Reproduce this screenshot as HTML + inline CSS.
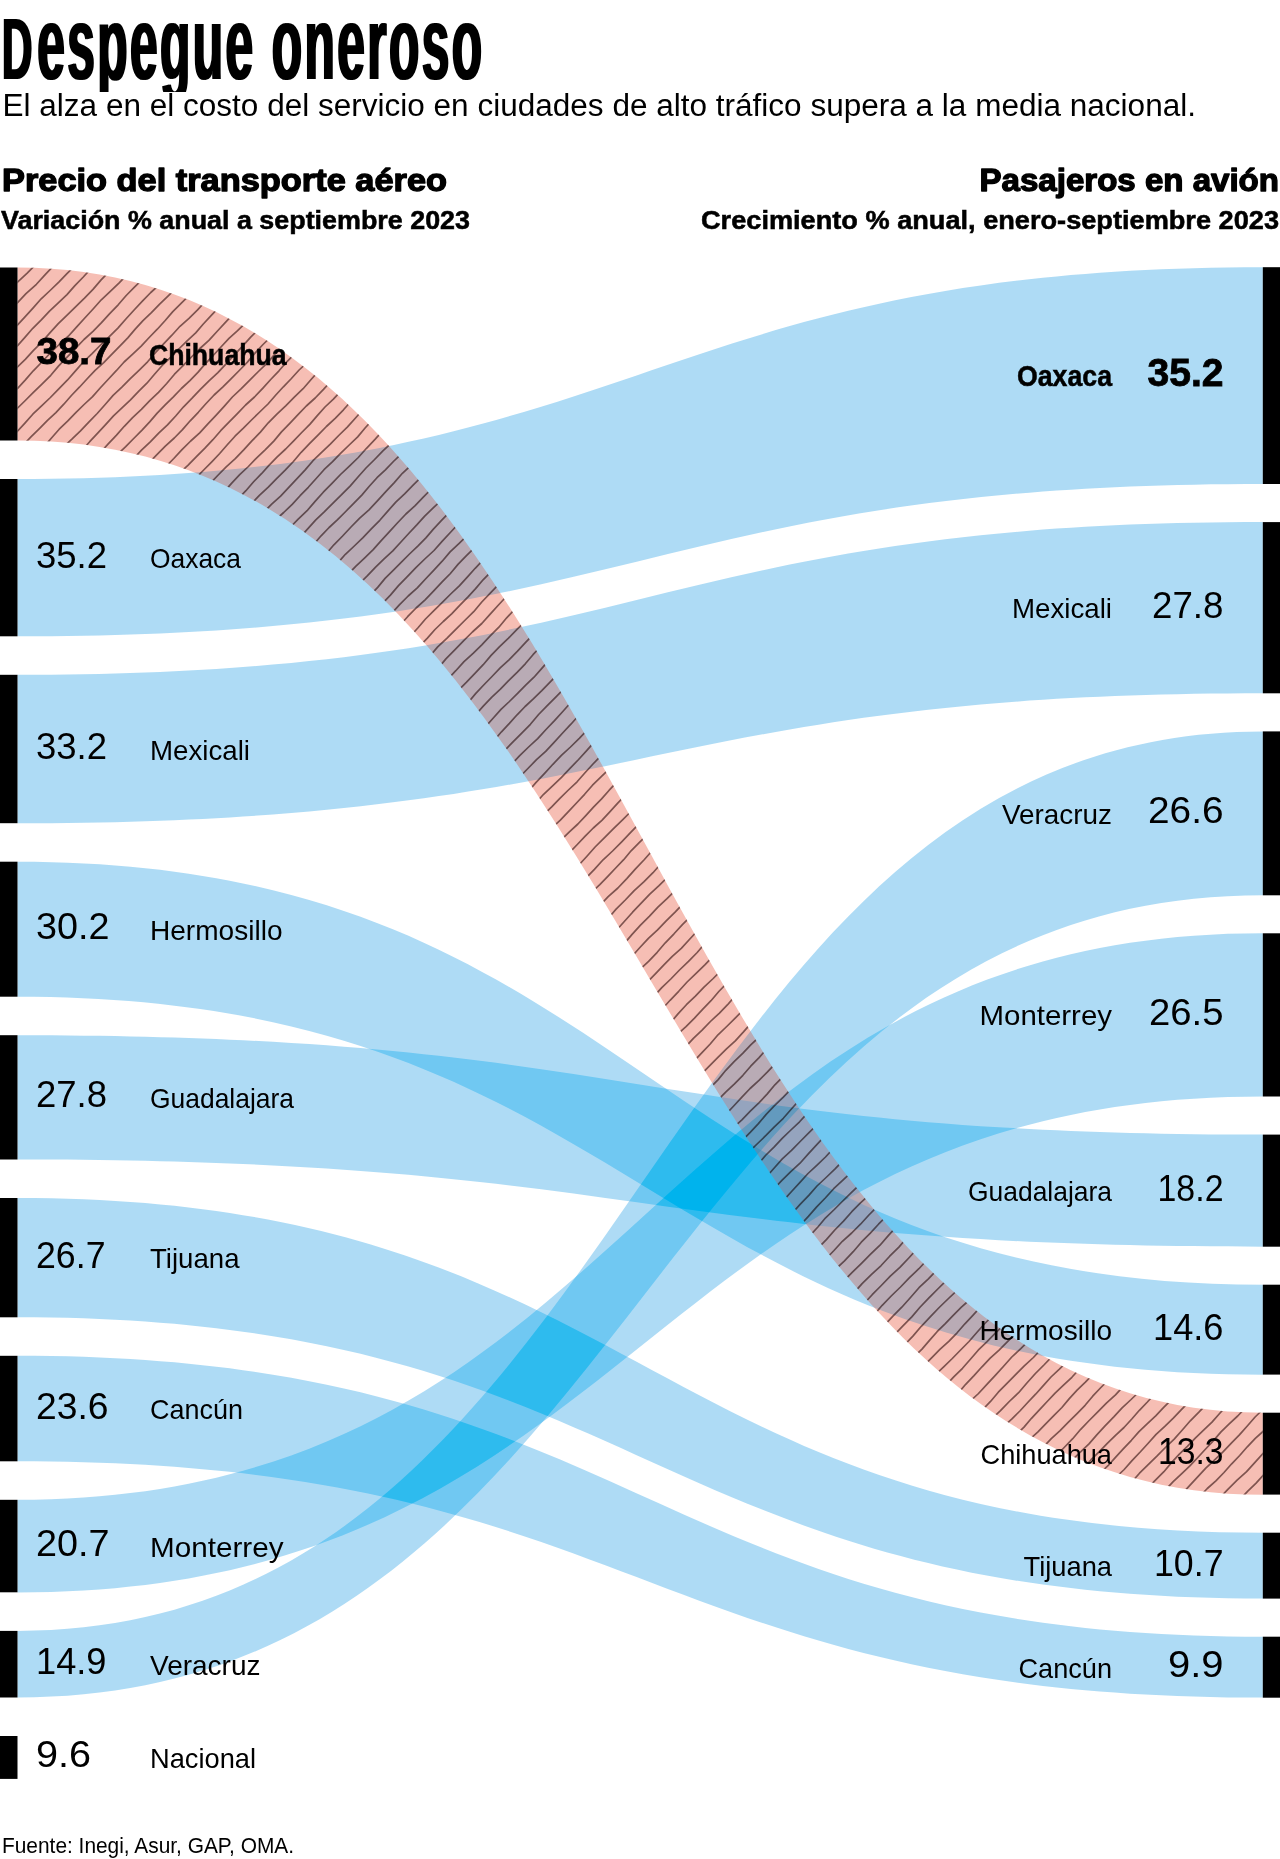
<!DOCTYPE html>
<html lang="es">
<head>
<meta charset="utf-8">
<title>Despegue oneroso</title>
<style>
html,body{margin:0;padding:0;background:#fff;}
body{width:1280px;height:1859px;overflow:hidden;}
body{position:relative;}
svg{display:block;position:absolute;left:0;top:0;}
#title{position:absolute;left:0;top:0;width:520px;height:92px;overflow:hidden;filter:url(#fat);}
.tt{position:absolute;left:2px;top:-9.5px;margin:0;padding:0;font:700 104px/1 "Liberation Sans", sans-serif;letter-spacing:5px;white-space:nowrap;color:#000;transform-origin:0 0;transform:scaleX(0.478);}
.tt::first-letter{font-size:88px;letter-spacing:10px;}
text{font-family:"Liberation Sans", sans-serif;fill:#000;}
.b{font-weight:700;}
.t{stroke:#000;stroke-width:2.2px;stroke-linejoin:round;}
.h1{stroke:#000;stroke-width:1.3px;stroke-linejoin:round;}
.h2{stroke:#000;stroke-width:0.55px;}
.nb{stroke:#000;stroke-width:0.8px;}
.lb{stroke:#000;stroke-width:0.5px;}
.band{fill:#cccccc;mix-blend-mode:multiply;}
</style>
</head>
<body>
<svg width="1280" height="1859" viewBox="0 0 1280 1859">
<defs>
<filter id="ramp" x="0" y="0" width="1280" height="1859" filterUnits="userSpaceOnUse" color-interpolation-filters="sRGB">
<feComponentTransfer>
<feFuncR type="table" tableValues="0.0000 0.0000 0.0000 0.0000 0.0000 0.0000 0.0000 0.0000 0.0000 0.0000 0.0000 0.0000 0.0000 0.0000 0.0000 0.0000 0.0000 0.0000 0.0000 0.0000 0.0000 0.0000 0.0000 0.0000 0.0000 0.0000 0.0000 0.0000 0.0000 0.0000 0.0000 0.0000 0.0000 0.0000 0.0000 0.0000 0.0000 0.0000 0.0000 0.0000 0.0000 0.0007 0.0191 0.0375 0.0559 0.0743 0.0926 0.1110 0.1294 0.1478 0.1662 0.1846 0.2042 0.2241 0.2440 0.2639 0.2838 0.3037 0.3237 0.3436 0.3635 0.3834 0.4033 0.4232 0.4431 0.4581 0.4730 0.4880 0.5029 0.5179 0.5328 0.5478 0.5627 0.5777 0.5926 0.6076 0.6225 0.6375 0.6525 0.6674 0.6824 0.6982 0.7141 0.7300 0.7459 0.7618 0.7776 0.7935 0.8094 0.8253 0.8412 0.8571 0.8729 0.8888 0.9047 0.9206 0.9365 0.9524 0.9682 0.9841 1.0000"/>
<feFuncG type="table" tableValues="0.6667 0.6671 0.6676 0.6681 0.6686 0.6691 0.6695 0.6700 0.6705 0.6710 0.6715 0.6719 0.6724 0.6729 0.6734 0.6738 0.6743 0.6748 0.6753 0.6758 0.6762 0.6767 0.6772 0.6777 0.6782 0.6786 0.6791 0.6796 0.6801 0.6805 0.6810 0.6815 0.6820 0.6830 0.6859 0.6888 0.6916 0.6945 0.6974 0.7003 0.7031 0.7060 0.7091 0.7121 0.7152 0.7183 0.7213 0.7244 0.7275 0.7305 0.7336 0.7366 0.7404 0.7444 0.7484 0.7524 0.7564 0.7604 0.7643 0.7683 0.7723 0.7763 0.7803 0.7843 0.7882 0.7929 0.7975 0.8022 0.8069 0.8115 0.8162 0.8208 0.8255 0.8301 0.8348 0.8395 0.8441 0.8488 0.8534 0.8581 0.8627 0.8696 0.8765 0.8833 0.8902 0.8971 0.9039 0.9108 0.9176 0.9245 0.9314 0.9382 0.9451 0.9520 0.9588 0.9657 0.9725 0.9794 0.9863 0.9931 1.0000"/>
<feFuncB type="table" tableValues="0.9176 0.9179 0.9181 0.9184 0.9186 0.9188 0.9191 0.9193 0.9196 0.9198 0.9200 0.9203 0.9205 0.9208 0.9210 0.9212 0.9215 0.9217 0.9220 0.9222 0.9224 0.9227 0.9229 0.9232 0.9234 0.9236 0.9239 0.9241 0.9243 0.9246 0.9248 0.9251 0.9253 0.9257 0.9267 0.9276 0.9286 0.9295 0.9305 0.9315 0.9324 0.9333 0.9337 0.9341 0.9345 0.9349 0.9353 0.9356 0.9360 0.9364 0.9368 0.9372 0.9382 0.9395 0.9407 0.9419 0.9431 0.9444 0.9456 0.9468 0.9480 0.9493 0.9505 0.9517 0.9529 0.9537 0.9544 0.9551 0.9559 0.9566 0.9574 0.9581 0.9588 0.9596 0.9603 0.9610 0.9618 0.9625 0.9632 0.9640 0.9647 0.9665 0.9682 0.9700 0.9718 0.9735 0.9753 0.9771 0.9788 0.9806 0.9824 0.9841 0.9859 0.9876 0.9894 0.9912 0.9929 0.9947 0.9965 0.9982 1.0000"/>
</feComponentTransfer>
</filter>
<filter id="ramp2" x="0" y="0" width="1280" height="1859" filterUnits="userSpaceOnUse" color-interpolation-filters="sRGB">
<feComponentTransfer>
<feFuncR type="table" tableValues="0.1961 0.1973 0.1985 0.1997 0.2009 0.2021 0.2033 0.2045 0.2057 0.2068 0.2080 0.2092 0.2104 0.2116 0.2128 0.2140 0.2152 0.2164 0.2176 0.2188 0.2200 0.2212 0.2224 0.2236 0.2248 0.2260 0.2272 0.2284 0.2296 0.2308 0.2320 0.2332 0.2344 0.2366 0.2424 0.2481 0.2539 0.2596 0.2653 0.2711 0.2768 0.2828 0.2935 0.3042 0.3150 0.3257 0.3364 0.3471 0.3578 0.3686 0.3793 0.3900 0.4044 0.4197 0.4350 0.4504 0.4657 0.4810 0.4963 0.5116 0.5270 0.5423 0.5576 0.5729 0.5882 0.5968 0.6054 0.6140 0.6225 0.6311 0.6397 0.6483 0.6569 0.6654 0.6740 0.6826 0.6912 0.6998 0.7083 0.7169 0.7255 0.7376 0.7498 0.7620 0.7741 0.7863 0.7984 0.8106 0.8227 0.8349 0.8471 0.8592 0.8714 0.8835 0.8957 0.9078 0.9200 0.9322 0.9443 0.9565 0.9686"/>
<feFuncG type="table" tableValues="0.5490 0.5497 0.5505 0.5512 0.5519 0.5526 0.5533 0.5540 0.5548 0.5555 0.5562 0.5569 0.5576 0.5584 0.5591 0.5598 0.5605 0.5612 0.5619 0.5627 0.5634 0.5641 0.5648 0.5655 0.5663 0.5670 0.5677 0.5684 0.5691 0.5698 0.5706 0.5713 0.5720 0.5730 0.5749 0.5768 0.5787 0.5807 0.5826 0.5845 0.5864 0.5883 0.5902 0.5921 0.5941 0.5960 0.5979 0.5998 0.6017 0.6036 0.6055 0.6075 0.6103 0.6134 0.6164 0.6195 0.6225 0.6256 0.6287 0.6317 0.6348 0.6379 0.6409 0.6440 0.6471 0.6488 0.6505 0.6522 0.6539 0.6556 0.6574 0.6591 0.6608 0.6625 0.6642 0.6659 0.6676 0.6694 0.6711 0.6728 0.6745 0.6780 0.6816 0.6851 0.6886 0.6922 0.6957 0.6992 0.7027 0.7063 0.7098 0.7133 0.7169 0.7204 0.7239 0.7275 0.7310 0.7345 0.7380 0.7416 0.7451"/>
<feFuncB type="table" tableValues="0.7294 0.7297 0.7299 0.7301 0.7304 0.7306 0.7308 0.7311 0.7313 0.7316 0.7318 0.7320 0.7323 0.7325 0.7328 0.7330 0.7332 0.7335 0.7337 0.7340 0.7342 0.7344 0.7347 0.7349 0.7352 0.7354 0.7356 0.7359 0.7361 0.7364 0.7366 0.7368 0.7371 0.7375 0.7384 0.7394 0.7403 0.7413 0.7423 0.7432 0.7442 0.7451 0.7451 0.7451 0.7451 0.7451 0.7451 0.7451 0.7451 0.7451 0.7451 0.7451 0.7451 0.7451 0.7451 0.7451 0.7451 0.7451 0.7451 0.7451 0.7451 0.7451 0.7451 0.7451 0.7451 0.7431 0.7412 0.7392 0.7373 0.7353 0.7333 0.7314 0.7294 0.7275 0.7255 0.7235 0.7216 0.7196 0.7176 0.7157 0.7137 0.7135 0.7133 0.7131 0.7129 0.7127 0.7125 0.7124 0.7122 0.7120 0.7118 0.7116 0.7114 0.7112 0.7110 0.7108 0.7106 0.7104 0.7102 0.7100 0.7098"/>
</feComponentTransfer>
</filter>
<filter id="fat" x="0" y="0" width="1" height="1"><feMorphology operator="dilate" radius="1.2 0.3"/></filter>
</defs>
<rect width="1280" height="1859" fill="#fff"/>
<g filter="url(#ramp)"><rect width="1280" height="1859" fill="#fff"/><g style="isolation:isolate">
<path class="band" d="M17.5,479.0 C644.1,479.0 644.1,267.2 1262.8,267.2 L1262.8,484.0 C644.1,484.0 644.1,636.3 17.5,636.3 Z"/>
<path class="band" d="M17.5,674.8 C644.1,674.8 644.1,522.1 1262.8,522.1 L1262.8,693.3 C644.1,693.3 644.1,823.2 17.5,823.2 Z"/>
<path class="band" d="M17.5,861.7 C644.1,861.7 644.1,1284.7 1262.8,1284.7 L1262.8,1374.7 C644.1,1374.7 644.1,996.7 17.5,996.7 Z"/>
<path class="band" d="M17.5,1035.2 C644.1,1035.2 644.1,1134.6 1262.8,1134.6 L1262.8,1246.7 C644.1,1246.7 644.1,1159.5 17.5,1159.5 Z"/>
<path class="band" d="M17.5,1198.0 C644.1,1198.0 644.1,1532.7 1262.8,1532.7 L1262.8,1598.6 C644.1,1598.6 644.1,1317.3 17.5,1317.3 Z"/>
<path class="band" d="M17.5,1355.8 C644.1,1355.8 644.1,1636.7 1262.8,1636.7 L1262.8,1697.6 C644.1,1697.6 644.1,1461.3 17.5,1461.3 Z"/>
<path class="band" d="M17.5,1499.8 C644.1,1499.8 644.1,933.3 1262.8,933.3 L1262.8,1096.5 C644.1,1096.5 644.1,1592.4 17.5,1592.4 Z"/>
<path class="band" d="M17.5,1630.9 C644.1,1630.9 644.1,731.4 1262.8,731.4 L1262.8,895.2 C644.1,895.2 644.1,1697.5 17.5,1697.5 Z"/>
</g></g>
<clipPath id="redclip"><path d="M17.5,267.5 C644.1,267.5 644.1,1412.7 1262.8,1412.7 L1262.8,1494.7 C644.1,1494.7 644.1,440.5 17.5,440.5 Z"/></clipPath>
<g clip-path="url(#redclip)"><g filter="url(#ramp2)"><rect width="1280" height="1859" fill="#fff"/><g style="isolation:isolate">
<path class="band" d="M17.5,479.0 C644.1,479.0 644.1,267.2 1262.8,267.2 L1262.8,484.0 C644.1,484.0 644.1,636.3 17.5,636.3 Z"/>
<path class="band" d="M17.5,674.8 C644.1,674.8 644.1,522.1 1262.8,522.1 L1262.8,693.3 C644.1,693.3 644.1,823.2 17.5,823.2 Z"/>
<path class="band" d="M17.5,861.7 C644.1,861.7 644.1,1284.7 1262.8,1284.7 L1262.8,1374.7 C644.1,1374.7 644.1,996.7 17.5,996.7 Z"/>
<path class="band" d="M17.5,1035.2 C644.1,1035.2 644.1,1134.6 1262.8,1134.6 L1262.8,1246.7 C644.1,1246.7 644.1,1159.5 17.5,1159.5 Z"/>
<path class="band" d="M17.5,1198.0 C644.1,1198.0 644.1,1532.7 1262.8,1532.7 L1262.8,1598.6 C644.1,1598.6 644.1,1317.3 17.5,1317.3 Z"/>
<path class="band" d="M17.5,1355.8 C644.1,1355.8 644.1,1636.7 1262.8,1636.7 L1262.8,1697.6 C644.1,1697.6 644.1,1461.3 17.5,1461.3 Z"/>
<path class="band" d="M17.5,1499.8 C644.1,1499.8 644.1,933.3 1262.8,933.3 L1262.8,1096.5 C644.1,1096.5 644.1,1592.4 17.5,1592.4 Z"/>
<path class="band" d="M17.5,1630.9 C644.1,1630.9 644.1,731.4 1262.8,731.4 L1262.8,895.2 C644.1,895.2 644.1,1697.5 17.5,1697.5 Z"/>
</g></g></g>
<g clip-path="url(#redclip)" fill="none" stroke="#847070" stroke-width="1.7" stroke-linejoin="round" style="mix-blend-mode:multiply">
<path d="M16.1,283.4 27.2,273.1 37.8,262.4"/>
<path d="M16.3,303.9 26.0,293.7 36.4,284.3 45.9,273.9 55.6,263.7"/>
<path d="M16.7,325.8 25.0,316.9 33.2,307.9 41.2,298.8 50.1,290.5 58.8,282.1 67.2,273.4 75.9,264.8"/>
<path d="M16.9,346.4 24.9,337.4 32.8,328.3 41.3,319.9 49.5,311.1 58.3,302.9 67.0,294.6 74.9,285.6 83.3,277.0 91.4,268.1"/>
<path d="M16.5,367.8 25.3,359.4 33.5,350.4 42.1,341.8 50.1,332.6 58.3,323.6 67.1,315.2 75.8,306.6 84.5,298.1 93.0,289.4 100.9,280.1 109.3,271.3"/>
<path d="M16.9,389.1 25.2,380.1 33.3,370.8 41.9,362.0 50.3,353.0 59.2,344.5 68.3,336.2 76.5,327.1 84.8,318.0 93.1,309.0 101.3,299.8 110.3,291.4 119.2,282.9 127.7,274.0"/>
<path d="M16.1,409.5 24.8,401.0 33.4,392.4 42.2,383.9 50.8,375.3 58.7,365.9 67.1,357.1 75.5,348.3 84.0,339.5 93.0,331.3 101.5,322.6 109.7,313.6 118.2,304.8 126.2,295.5 134.7,286.9 143.5,278.4"/>
<path d="M16.5,432.2 24.7,423.3 32.8,414.2 41.6,405.9 50.4,397.5 58.8,388.8 67.3,380.2 75.3,371.1 83.3,362.0 92.1,353.6 100.6,345.0 109.3,336.6 117.9,328.1 125.9,319.0 134.1,310.0 142.4,301.2 150.8,292.5 159.7,284.3"/>
<path d="M23.2,445.0 31.2,436.7 39.4,428.6 47.5,420.4 55.9,412.6 63.8,404.2 71.4,395.5 79.4,387.2 87.2,378.7 95.1,370.3 103.7,362.7 111.7,354.4 119.8,346.2 127.8,337.9 135.2,329.1 143.0,320.6 151.4,312.7 159.4,304.3 167.7,296.4 176.0,288.4"/>
<path d="M43.9,446.9 51.5,438.0 59.2,429.2 67.6,421.1 75.8,412.7 84.1,404.5 92.6,396.6 100.4,387.8 108.3,379.2 116.3,370.7 124.1,362.0 132.7,354.1 141.2,346.1 149.2,337.5 157.3,329.2 165.2,320.5 172.8,311.6 181.1,303.4 189.4,295.2"/>
<path d="M63.0,447.3 71.9,439.2 80.5,430.8 88.8,422.1 97.2,413.5 105.2,404.5 113.1,395.4 121.9,387.2 130.3,378.6 139.0,370.3 147.6,361.8 155.4,352.7 163.6,343.9 171.9,335.2 180.0,326.3 189.0,318.3 197.6,309.9 205.7,301.0"/>
<path d="M82.0,450.5 89.7,441.7 97.7,433.2 105.6,424.6 113.5,415.9 122.0,407.9 130.5,399.8 138.6,391.4 146.9,383.2 154.5,374.3 162.2,365.5 170.6,357.4 178.8,349.0 187.1,340.8 195.7,332.9 203.3,324.0 211.3,315.4 219.3,306.9"/>
<path d="M99.9,453.0 108.0,444.1 116.3,435.4 124.3,426.3 132.6,417.6 141.4,409.3 149.8,400.7 158.5,392.3 166.7,383.5 174.5,374.2 183.1,365.7 191.4,357.0 199.9,348.5 208.9,340.4 217.0,331.5 225.2,322.6 233.4,313.8"/>
<path d="M117.3,454.6 125.7,446.7 133.7,438.5 141.8,430.3 149.7,421.9 157.2,413.1 165.2,404.9 173.4,396.8 181.4,388.5 189.9,380.7 197.9,372.4 205.4,363.6 213.4,355.3 221.2,346.8 229.0,338.4 237.6,330.7 245.8,322.6"/>
<path d="M133.2,459.0 141.5,450.2 150.3,441.9 158.7,433.2 167.5,424.9 175.7,416.0 183.6,406.8 192.1,398.2 200.4,389.4 209.0,380.9 217.9,372.7 226.1,363.8 234.3,354.9 242.6,346.1 250.7,337.1 259.3,328.6"/>
<path d="M149.2,462.6 157.4,454.2 165.6,445.8 174.3,438.0 182.5,429.6 190.2,420.8 198.3,412.3 206.1,403.5 214.1,395.0 222.7,387.1 231.0,378.8 239.3,370.5 247.4,362.1 255.0,353.1 263.0,344.5 271.4,336.4"/>
<path d="M165.3,467.1 173.8,458.5 182.0,449.6 190.7,441.0 199.7,432.9 207.9,423.9 216.2,415.1 224.4,406.1 232.4,397.0 241.3,388.7 249.8,380.1 258.4,371.5 267.2,363.1 275.1,353.9 283.3,344.9"/>
<path d="M179.1,473.4 187.9,465.3 196.2,456.8 204.7,448.4 212.9,439.7 220.7,430.7 229.0,422.1 237.4,413.6 245.6,405.0 254.5,397.0 262.7,388.3 270.7,379.5 279.0,370.8 286.8,361.8 295.1,353.3"/>
<path d="M195.7,478.2 203.7,470.0 211.8,461.8 219.7,453.5 227.3,444.8 235.0,436.2 243.4,428.2 251.5,420.0 259.7,412.0 268.0,404.0 275.6,395.3 283.4,386.8 291.4,378.5 299.1,370.0 307.5,362.1"/>
<path d="M209.3,484.3 217.7,475.5 226.2,466.8 235.3,458.7 243.7,449.9 251.9,440.9 260.4,432.1 268.3,422.8 276.9,414.2 285.7,405.8 294.3,397.1 303.1,388.7 311.1,379.5 319.2,370.4"/>
<path d="M223.7,492.4 231.5,483.4 239.7,474.6 248.4,466.5 256.7,457.8 265.4,449.6 273.8,441.1 281.5,431.9 289.8,423.3 298.0,414.6 306.3,406.0 315.2,398.0 323.5,389.4 331.6,380.5"/>
<path d="M237.9,499.0 245.9,490.7 253.4,482.0 261.5,473.7 269.2,465.1 277.2,456.8 285.7,449.0 293.7,440.8 301.7,432.5 309.8,424.4 317.3,415.6 325.0,407.0 333.4,399.1 341.3,390.7"/>
<path d="M251.2,504.0 259.4,495.3 268.3,487.2 276.6,478.6 285.2,470.2 293.4,461.5 301.2,452.3 309.5,443.6 318.0,435.1 326.4,426.5 335.2,418.4 343.5,409.8 351.5,400.8"/>
<path d="M263.2,512.7 271.7,504.2 280.6,496.1 288.8,487.4 297.0,478.7 305.2,469.9 313.0,460.7 321.6,452.4 330.3,444.1 338.7,435.5 347.3,427.1 355.3,418.2 363.2,409.2"/>
<path d="M275.0,520.4 283.7,512.5 292.2,504.4 300.1,495.7 308.3,487.3 316.2,478.5 324.0,469.7 332.6,461.7 340.8,453.2 349.2,445.0 357.7,436.9 365.3,427.8 373.2,419.1"/>
<path d="M289.6,528.0 298.2,519.2 307.1,510.7 315.1,501.4 323.3,492.2 332.0,483.4 340.5,474.5 349.4,466.1 358.3,457.5 366.5,448.3 375.0,439.4 383.2,430.3"/>
<path d="M299.7,537.8 307.7,528.9 315.8,519.9 324.5,511.6 333.0,503.1 341.6,494.7 350.1,486.1 358.0,477.0 366.0,468.0 374.6,459.5 382.9,450.8 391.8,442.7"/>
<path d="M313.6,544.5 321.1,535.8 329.1,527.5 337.6,519.7 345.7,511.5 353.7,503.3 361.8,495.1 369.3,486.3 377.0,477.7 385.4,469.8 393.4,461.5 401.7,453.6"/>
<path d="M325.8,554.3 333.9,544.8 342.6,536.0 351.0,527.0 359.7,518.2 369.0,509.9 377.4,500.8 385.8,491.7 394.3,482.6 402.4,473.3 411.5,464.8"/>
<path d="M337.4,563.4 345.4,554.3 354.3,546.0 363.0,537.7 371.3,528.9 379.8,520.3 387.8,511.1 395.8,502.1 404.6,493.8 413.1,485.2 421.7,476.6"/>
<path d="M347.3,575.1 355.7,566.4 364.5,558.1 373.2,549.6 381.2,540.6 389.5,531.7 397.6,522.8 405.9,514.0 414.9,505.9 423.3,497.1 431.8,488.5"/>
<path d="M359.1,584.0 367.5,575.7 375.6,567.2 384.1,558.9 392.8,550.9 400.7,542.2 408.7,533.5 416.8,524.9 424.7,516.1 433.2,507.9 441.8,499.8"/>
<path d="M369.8,595.7 377.7,587.4 385.1,578.4 393.2,570.3 401.4,562.2 409.5,554.0 417.8,546.1 425.9,537.9 433.4,529.1 441.3,520.7 449.3,512.4"/>
<path d="M381.8,604.2 390.4,595.1 398.5,585.6 407.3,576.7 415.9,567.7 424.8,559.0 434.0,550.5 442.3,541.1 450.8,532.0 459.3,522.8"/>
<path d="M391.4,613.6 399.6,604.6 408.2,596.0 417.3,587.9 425.5,579.0 433.9,570.1 442.2,561.2 450.1,551.9 458.9,543.6 467.6,535.1"/>
<path d="M399.5,625.7 407.6,616.7 416.1,608.0 425.1,599.8 433.5,591.1 441.9,582.2 450.4,573.5 458.2,564.1 466.7,555.4 475.4,546.9"/>
<path d="M409.8,636.8 417.8,628.0 425.5,619.0 433.9,610.7 442.3,602.3 450.7,594.0 459.3,585.9 467.3,577.2 475.2,568.3 483.4,559.7"/>
<path d="M419.4,646.4 427.4,638.1 435.0,629.5 443.3,621.5 451.9,613.7 459.7,605.3 467.8,597.1 475.6,588.6 483.1,579.8 491.2,571.6"/>
<path d="M429.5,656.5 437.7,646.9 446.8,638.3 455.8,629.4 464.7,620.5 473.7,611.7 481.8,602.0 490.5,592.9 499.2,583.8"/>
<path d="M437.8,668.6 445.9,658.9 454.8,649.9 463.5,640.8 472.4,632.0 481.8,623.5 490.2,614.1 498.7,604.8 507.3,595.5"/>
<path d="M447.4,679.6 455.8,670.7 464.0,661.6 473.1,653.4 481.8,644.8 490.2,635.9 498.9,627.2 506.7,617.8 515.1,608.9"/>
<path d="M457.6,691.1 466.3,682.4 474.7,673.6 483.2,664.7 491.1,655.4 499.6,646.6 508.5,638.1 517.0,629.4 525.8,620.9"/>
<path d="M468.0,702.8 475.6,693.6 483.7,685.0 492.0,676.5 500.2,667.9 509.0,659.8 517.3,651.4 525.4,642.6 533.6,634.1"/>
<path d="M475.6,714.8 483.5,705.9 491.6,697.3 500.4,689.2 508.6,680.7 517.1,672.4 525.3,663.8 533.0,654.7 541.2,646.0"/>
<path d="M485.6,726.6 493.3,718.0 501.0,709.4 509.4,701.5 517.6,693.4 525.7,685.2 534.0,677.2 541.6,668.6 549.2,659.9"/>
<path d="M494.0,740.5 501.5,731.8 509.4,723.4 517.1,714.8 525.1,706.5 533.6,698.7 541.8,690.7 549.8,682.3 557.8,674.1"/>
<path d="M503.6,751.6 512.5,742.4 521.5,733.4 530.4,724.3 538.6,714.5 547.5,705.3 556.5,696.3 565.5,687.2"/>
<path d="M511.3,764.6 519.7,755.6 528.6,747.0 537.7,738.6 546.0,729.5 554.5,720.6 562.8,711.5 571.0,702.2"/>
<path d="M519.2,777.3 527.9,768.5 536.5,759.7 545.7,751.4 554.1,742.3 562.4,733.2 570.9,724.2 579.1,715.0"/>
<path d="M528.0,791.7 536.1,782.4 544.6,773.4 552.9,764.3 561.4,755.4 570.5,747.0 579.3,738.3 587.8,729.4"/>
<path d="M535.4,803.5 543.6,794.3 552.6,785.8 561.5,777.3 570.0,768.3 578.6,759.5 586.9,750.4 595.1,741.1"/>
<path d="M543.1,815.2 551.7,806.9 559.9,798.3 568.4,790.0 577.1,781.8 585.0,772.8 593.0,764.0 601.3,755.4"/>
<path d="M551.3,828.4 560.1,820.4 568.4,811.7 576.5,803.0 584.6,794.3 592.5,785.2 601.0,776.9 609.6,768.6"/>
<path d="M561.2,839.9 569.4,831.8 577.9,824.0 585.8,815.6 593.5,807.1 601.6,798.9 609.2,790.2 617.1,781.8"/>
<path d="M569.2,852.8 577.3,844.5 585.2,836.2 593.3,828.0 601.9,820.3 609.8,811.9 617.5,803.4 625.5,795.0"/>
<path d="M577.7,866.3 586.5,856.7 595.1,847.0 604.3,837.9 613.5,828.7 622.8,819.7 631.9,810.5"/>
<path d="M585.4,878.7 594.4,869.4 603.1,859.8 612.6,851.0 621.7,841.8 630.7,832.4 639.8,823.2"/>
<path d="M591.4,892.5 599.8,884.7 607.8,876.4 615.7,868.0 623.7,859.7 631.1,850.8 639.2,842.6 647.4,834.6"/>
<path d="M599.3,906.0 608.2,896.6 617.9,888.0 626.8,878.6 635.5,868.9 644.4,859.5 653.0,849.8"/>
<path d="M607.6,919.0 616.1,909.1 625.3,900.0 634.2,890.6 643.8,881.9 653.0,872.7 661.6,863.0"/>
<path d="M616.0,930.8 624.3,921.5 632.6,912.2 641.2,903.2 649.8,894.2 659.0,885.7 667.9,876.9"/>
<path d="M624.0,943.9 632.1,934.4 640.5,925.1 649.3,916.3 657.9,907.2 667.0,898.7 675.9,889.9"/>
<path d="M631.6,956.8 639.9,947.5 648.4,938.3 657.6,929.9 666.2,920.9 675.1,912.1 683.7,903.1"/>
<path d="M639.4,969.8 648.6,961.3 657.2,952.3 665.3,942.8 674.0,933.8 682.4,924.6 691.2,915.8"/>
<path d="M647.3,982.2 655.6,973.6 663.9,964.9 672.3,956.3 681.3,948.3 689.4,939.5 697.6,930.7"/>
<path d="M653.4,996.9 661.8,987.6 670.8,979.0 679.5,970.0 688.5,961.4 697.2,952.5 705.3,943.0"/>
<path d="M661.7,1009.5 670.1,1000.3 678.7,991.3 687.1,982.0 696.1,973.4 705.1,964.7 713.7,955.7"/>
<path d="M669.9,1023.4 678.0,1013.9 686.4,1004.7 695.4,996.1 704.0,987.1 713.2,978.5 722.0,969.7"/>
<path d="M677.1,1034.7 686.0,1026.6 694.5,1018.1 702.6,1009.3 711.0,1000.7 718.8,991.5 727.2,982.9"/>
<path d="M685.3,1047.2 693.4,1038.4 702.1,1030.1 710.4,1021.5 719.2,1013.3 727.6,1004.7 735.4,995.6"/>
<path d="M693.7,1061.4 702.0,1052.7 710.2,1044.0 718.0,1034.8 726.7,1026.5 735.2,1018.1 743.6,1009.6"/>
<path d="M701.1,1074.4 709.5,1065.8 717.9,1057.3 726.5,1048.9 735.3,1040.8 743.5,1031.9 751.4,1022.9"/>
<path d="M709.8,1088.2 718.2,1079.6 725.8,1070.3 734.1,1061.6 742.7,1053.3 751.0,1044.6 759.8,1036.5"/>
<path d="M717.3,1100.6 725.7,1092.1 734.5,1083.9 742.9,1075.3 750.7,1066.2 759.1,1057.6 767.1,1048.6"/>
<path d="M725.5,1114.7 733.7,1106.0 741.9,1097.2 750.1,1088.5 759.0,1080.4 767.5,1071.9 775.8,1063.2"/>
<path d="M733.1,1127.9 741.9,1119.8 750.3,1111.2 758.9,1102.8 767.1,1094.1 774.9,1084.8 783.3,1076.3"/>
<path d="M741.8,1140.8 750.2,1132.3 758.4,1123.6 766.2,1114.4 774.5,1105.7 783.1,1097.3 791.4,1088.7"/>
<path d="M749.0,1151.9 757.6,1143.5 766.2,1135.2 774.6,1126.6 783.3,1118.3 791.2,1109.3 799.2,1100.3"/>
<path d="M757.7,1164.6 765.5,1155.5 774.0,1147.1 782.2,1138.3 790.9,1130.0 799.6,1121.8 807.7,1112.9"/>
<path d="M765.7,1177.6 774.0,1168.2 782.3,1158.9 791.5,1150.4 800.2,1141.5 809.0,1132.7 817.9,1123.9"/>
<path d="M773.3,1189.5 781.9,1180.4 790.8,1171.7 800.0,1163.2 808.3,1153.9 816.8,1144.7 825.3,1135.7"/>
<path d="M783.7,1200.1 791.8,1191.2 800.0,1182.4 808.0,1173.5 816.8,1165.3 825.5,1157.0 833.7,1148.2"/>
<path d="M791.7,1213.7 800.1,1204.4 808.8,1195.4 817.0,1186.0 826.1,1177.5 835.1,1168.9 843.7,1159.8"/>
<path d="M799.9,1225.5 808.4,1216.4 816.7,1206.9 825.3,1198.0 833.7,1188.7 842.9,1180.2 852.0,1171.7"/>
<path d="M809.7,1235.8 817.9,1227.0 825.6,1217.8 834.3,1209.5 842.8,1201.0 851.3,1192.6 860.0,1184.3"/>
<path d="M817.8,1248.3 826.6,1239.4 834.8,1230.0 843.5,1221.1 851.8,1211.7 860.5,1202.8 869.8,1194.4"/>
<path d="M825.3,1259.5 834.0,1250.5 842.4,1241.3 851.7,1233.0 860.5,1224.2 868.9,1215.0 877.7,1206.1"/>
<path d="M835.4,1269.3 844.5,1260.8 853.2,1251.7 861.3,1242.2 870.1,1233.4 878.5,1224.2 887.3,1215.3"/>
<path d="M843.1,1281.6 852.2,1272.4 861.5,1263.3 870.6,1254.2 880.0,1245.2 888.5,1235.4 897.3,1225.9"/>
<path d="M853.5,1293.4 862.1,1283.6 871.3,1274.6 880.9,1265.8 889.7,1256.2 898.9,1247.1 907.3,1237.2"/>
<path d="M863.4,1304.3 872.2,1294.7 881.3,1285.5 890.3,1276.1 899.9,1267.4 908.8,1258.0 917.5,1248.4"/>
<path d="M873.7,1315.2 882.2,1305.3 891.2,1296.0 900.5,1287.0 909.5,1277.7 918.9,1268.7 927.6,1259.2"/>
<path d="M883.8,1325.8 892.7,1316.3 901.8,1307.2 910.5,1297.5 919.0,1287.7 928.4,1278.8 937.4,1269.5"/>
<path d="M893.7,1335.5 902.7,1326.2 911.8,1316.9 920.2,1307.0 929.2,1297.7 938.3,1288.5 947.5,1279.4"/>
<path d="M903.9,1345.5 912.9,1336.1 921.3,1326.3 930.2,1316.9 939.2,1307.5 948.5,1298.5 957.9,1289.6"/>
<path d="M913.7,1357.2 922.0,1349.1 929.5,1340.4 937.1,1331.7 945.3,1323.6 953.2,1315.3 961.4,1307.2 970.0,1299.5"/>
<path d="M923.2,1366.4 931.6,1357.9 939.9,1349.4 948.8,1341.4 957.1,1332.8 964.9,1323.8 973.1,1315.1 981.1,1306.3"/>
<path d="M935.1,1375.0 943.7,1366.8 952.3,1358.5 960.6,1350.0 969.0,1341.5 976.8,1332.5 984.8,1323.5 993.3,1315.2"/>
<path d="M945.8,1385.3 954.0,1376.6 962.5,1368.3 970.4,1359.3 978.2,1350.2 986.8,1341.9 995.1,1333.4 1003.6,1325.1"/>
<path d="M958.0,1393.4 965.7,1384.3 974.0,1375.6 982.0,1366.8 990.2,1358.2 999.1,1350.1 1007.5,1341.7 1015.8,1333.1"/>
<path d="M969.4,1401.9 978.5,1393.5 986.9,1384.4 995.3,1375.4 1003.6,1366.3 1011.8,1357.0 1020.8,1348.6 1029.6,1339.9"/>
<path d="M981.8,1410.5 990.3,1401.7 998.3,1392.2 1007.0,1383.4 1015.6,1374.6 1024.3,1365.9 1033.4,1357.5 1041.8,1348.5"/>
<path d="M991.2,1419.4 1000.5,1410.7 1009.3,1401.5 1018.6,1392.7 1026.9,1383.0 1035.4,1373.5 1044.4,1364.5 1053.2,1355.3"/>
<path d="M1003.1,1426.8 1011.7,1419.1 1019.9,1411.0 1027.7,1402.5 1035.6,1394.2 1043.3,1385.6 1051.0,1377.0 1059.4,1369.1 1067.6,1361.0"/>
<path d="M1015.8,1435.2 1024.0,1427.1 1031.5,1418.3 1039.4,1409.9 1047.2,1401.5 1055.1,1393.1 1063.5,1385.2 1071.9,1377.3 1079.6,1368.8"/>
<path d="M1029.1,1439.9 1037.7,1432.1 1045.7,1423.9 1053.8,1415.7 1061.9,1407.5 1069.3,1398.6 1077.1,1390.2 1085.4,1382.1 1093.4,1373.9"/>
<path d="M1043.1,1447.3 1051.3,1438.7 1060.1,1430.7 1068.4,1422.2 1076.8,1413.8 1085.1,1405.3 1092.7,1396.2 1100.9,1387.5 1109.3,1379.1"/>
<path d="M1055.7,1456.3 1064.2,1447.5 1072.7,1438.7 1080.7,1429.3 1089.2,1420.5 1097.8,1411.9 1106.4,1403.2 1115.5,1394.9 1123.8,1385.9"/>
<path d="M1071.4,1460.9 1080.1,1452.3 1089.0,1443.9 1097.0,1434.6 1105.3,1425.6 1113.8,1416.8 1122.1,1407.8 1131.1,1399.5 1139.9,1391.0"/>
<path d="M1083.5,1468.4 1091.1,1459.7 1099.3,1451.7 1107.3,1443.3 1115.5,1435.3 1124.0,1427.5 1131.8,1419.0 1139.4,1410.3 1147.4,1402.0 1155.1,1393.5"/>
<path d="M1099.6,1473.6 1108.0,1465.7 1115.7,1457.1 1123.5,1448.7 1131.4,1440.3 1139.0,1431.6 1147.4,1423.7 1155.7,1415.8 1163.7,1407.4 1171.8,1399.3"/>
<path d="M1115.6,1477.6 1124.2,1469.5 1132.0,1460.6 1140.2,1452.0 1148.2,1443.2 1156.1,1434.4 1164.8,1426.4 1173.3,1418.2 1181.4,1409.6 1189.8,1401.2"/>
<path d="M1131.5,1482.4 1139.5,1473.2 1148.2,1464.7 1156.9,1456.2 1165.4,1447.5 1174.2,1439.1 1182.3,1430.0 1190.3,1420.8 1198.9,1412.2 1207.3,1403.4"/>
<path d="M1147.7,1488.2 1155.7,1479.9 1163.9,1471.7 1171.3,1462.9 1179.1,1454.4 1187.4,1446.4 1195.3,1438.1 1203.6,1430.1 1212.0,1422.1 1219.6,1413.5 1227.3,1405.0"/>
<path d="M1165.2,1490.1 1173.2,1481.7 1181.5,1473.8 1189.9,1465.9 1197.8,1457.5 1205.6,1449.0 1213.5,1440.6 1221.0,1431.9 1229.2,1423.8 1237.7,1416.0 1245.6,1407.6"/>
<path d="M1181.6,1494.3 1189.6,1485.6 1197.7,1476.9 1205.8,1468.2 1214.4,1460.1 1223.0,1451.9 1231.1,1443.3 1239.4,1434.9 1247.3,1426.0 1255.1,1417.0 1263.6,1408.8"/>
<path d="M1199.3,1496.9 1207.3,1488.5 1215.9,1480.8 1224.0,1472.5 1231.7,1463.8 1239.7,1455.5 1247.3,1446.8 1255.3,1438.4 1263.9,1430.7"/>
<path d="M1219.3,1498.4 1228.1,1489.1 1237.1,1480.2 1246.6,1471.6 1255.2,1462.1 1263.8,1452.7"/>
<path d="M1239.7,1499.6 1247.8,1491.2 1256.1,1483.1 1263.9,1474.4"/>
</g>
<rect x="0" y="267.5" width="17.5" height="173.0" fill="#000"/>
<rect x="0" y="479.0" width="17.5" height="157.3" fill="#000"/>
<rect x="0" y="674.8" width="17.5" height="148.4" fill="#000"/>
<rect x="0" y="861.7" width="17.5" height="135.0" fill="#000"/>
<rect x="0" y="1035.2" width="17.5" height="124.3" fill="#000"/>
<rect x="0" y="1198.0" width="17.5" height="119.3" fill="#000"/>
<rect x="0" y="1355.8" width="17.5" height="105.5" fill="#000"/>
<rect x="0" y="1499.8" width="17.5" height="92.5" fill="#000"/>
<rect x="0" y="1630.9" width="17.5" height="66.6" fill="#000"/>
<rect x="0" y="1736.0" width="17.5" height="42.9" fill="#000"/>
<rect x="1262.8" y="267.2" width="17.2" height="216.8" fill="#000"/>
<rect x="1262.8" y="522.1" width="17.2" height="171.2" fill="#000"/>
<rect x="1262.8" y="731.4" width="17.2" height="163.9" fill="#000"/>
<rect x="1262.8" y="933.3" width="17.2" height="163.2" fill="#000"/>
<rect x="1262.8" y="1134.6" width="17.2" height="112.1" fill="#000"/>
<rect x="1262.8" y="1284.7" width="17.2" height="89.9" fill="#000"/>
<rect x="1262.8" y="1412.7" width="17.2" height="81.9" fill="#000"/>
<rect x="1262.8" y="1532.7" width="17.2" height="65.9" fill="#000"/>
<rect x="1262.8" y="1636.7" width="17.2" height="61.0" fill="#000"/>
<text x="2.5" y="116" font-size="31" textLength="1193.5" lengthAdjust="spacingAndGlyphs">El alza en el costo del servicio en ciudades de alto tráfico supera a la media nacional.</text>
<text x="2" y="191" font-size="31" class="b h1" textLength="445" lengthAdjust="spacingAndGlyphs">Precio del transporte aéreo</text>
<text x="1" y="229" font-size="26.6" class="b h2" textLength="469" lengthAdjust="spacingAndGlyphs">Variación % anual a septiembre 2023</text>
<text x="1279" y="191" font-size="31" class="b h1" text-anchor="end" textLength="299.5" lengthAdjust="spacingAndGlyphs">Pasajeros en avión</text>
<text x="1279" y="229" font-size="26.6" class="b h2" text-anchor="end" textLength="578" lengthAdjust="spacingAndGlyphs">Crecimiento % anual, enero-septiembre 2023</text>
<text x="36.5" y="364.0" font-size="37.5" class="b nb" textLength="75.0" lengthAdjust="spacingAndGlyphs">38.7</text>
<text x="149" y="364.5" font-size="29" class="b lb" textLength="137.5" lengthAdjust="spacingAndGlyphs">Chihuahua</text>
<text x="36" y="567.7" font-size="37" class="n" textLength="71.0" lengthAdjust="spacingAndGlyphs">35.2</text>
<text x="150" y="568.2" font-size="28.5" class="l" textLength="91" lengthAdjust="spacingAndGlyphs">Oaxaca</text>
<text x="36" y="759.0" font-size="37" class="n" textLength="71.0" lengthAdjust="spacingAndGlyphs">33.2</text>
<text x="150" y="759.5" font-size="28.5" class="l" textLength="100" lengthAdjust="spacingAndGlyphs">Mexicali</text>
<text x="36" y="939.2" font-size="37" class="n" textLength="73.5" lengthAdjust="spacingAndGlyphs">30.2</text>
<text x="150" y="939.7" font-size="28.5" class="l" textLength="132.5" lengthAdjust="spacingAndGlyphs">Hermosillo</text>
<text x="36" y="1107.4" font-size="37" class="n" textLength="71.0" lengthAdjust="spacingAndGlyphs">27.8</text>
<text x="150" y="1107.9" font-size="28.5" class="l" textLength="144" lengthAdjust="spacingAndGlyphs">Guadalajara</text>
<text x="36" y="1267.7" font-size="37" class="n" textLength="69.5" lengthAdjust="spacingAndGlyphs">26.7</text>
<text x="150" y="1268.2" font-size="28.5" class="l" textLength="89.5" lengthAdjust="spacingAndGlyphs">Tijuana</text>
<text x="36" y="1418.6" font-size="37" class="n" textLength="72.5" lengthAdjust="spacingAndGlyphs">23.6</text>
<text x="150" y="1419.1" font-size="28.5" class="l" textLength="93" lengthAdjust="spacingAndGlyphs">Cancún</text>
<text x="36" y="1556.1" font-size="37" class="n" textLength="73.5" lengthAdjust="spacingAndGlyphs">20.7</text>
<text x="150" y="1556.6" font-size="28.5" class="l" textLength="133.5" lengthAdjust="spacingAndGlyphs">Monterrey</text>
<text x="36" y="1674.2" font-size="37" class="n" textLength="70.5" lengthAdjust="spacingAndGlyphs">14.9</text>
<text x="150" y="1674.7" font-size="28.5" class="l" textLength="110.5" lengthAdjust="spacingAndGlyphs">Veracruz</text>
<text x="36" y="1767.4" font-size="37" class="n" textLength="55.0" lengthAdjust="spacingAndGlyphs">9.6</text>
<text x="150" y="1767.9" font-size="28.5" class="l" textLength="106" lengthAdjust="spacingAndGlyphs">Nacional</text>
<text x="1223.5" y="385.6" font-size="38.5" class="b nb" text-anchor="end" textLength="76.0" lengthAdjust="spacingAndGlyphs">35.2</text>
<text x="1112" y="386.1" font-size="29.5" class="b lb" text-anchor="end" textLength="95" lengthAdjust="spacingAndGlyphs">Oaxaca</text>
<text x="1223.5" y="617.7" font-size="37" class="n" text-anchor="end" textLength="71.5" lengthAdjust="spacingAndGlyphs">27.8</text>
<text x="1112" y="618.2" font-size="28.5" class="l" text-anchor="end" textLength="100" lengthAdjust="spacingAndGlyphs">Mexicali</text>
<text x="1223.5" y="823.3" font-size="37" class="n" text-anchor="end" textLength="75.5" lengthAdjust="spacingAndGlyphs">26.6</text>
<text x="1112" y="823.8" font-size="28.5" class="l" text-anchor="end" textLength="110" lengthAdjust="spacingAndGlyphs">Veracruz</text>
<text x="1223.5" y="1024.9" font-size="37" class="n" text-anchor="end" textLength="74.5" lengthAdjust="spacingAndGlyphs">26.5</text>
<text x="1112" y="1025.4" font-size="28.5" class="l" text-anchor="end" textLength="132.5" lengthAdjust="spacingAndGlyphs">Monterrey</text>
<text x="1223.5" y="1200.6" font-size="37" class="n" text-anchor="end" textLength="66.0" lengthAdjust="spacingAndGlyphs">18.2</text>
<text x="1112" y="1201.1" font-size="28.5" class="l" text-anchor="end" textLength="144" lengthAdjust="spacingAndGlyphs">Guadalajara</text>
<text x="1223.5" y="1339.7" font-size="37" class="n" text-anchor="end" textLength="70.5" lengthAdjust="spacingAndGlyphs">14.6</text>
<text x="1112" y="1340.2" font-size="28.5" class="l" text-anchor="end" textLength="132.5" lengthAdjust="spacingAndGlyphs">Hermosillo</text>
<text x="1223.5" y="1463.7" font-size="37" class="n" text-anchor="end" textLength="65.5" lengthAdjust="spacingAndGlyphs">13.3</text>
<text x="1112" y="1464.2" font-size="28.5" class="l" text-anchor="end" textLength="131.5" lengthAdjust="spacingAndGlyphs">Chihuahua</text>
<text x="1223.5" y="1575.7" font-size="37" class="n" text-anchor="end" textLength="69.5" lengthAdjust="spacingAndGlyphs">10.7</text>
<text x="1112" y="1576.2" font-size="28.5" class="l" text-anchor="end" textLength="88.5" lengthAdjust="spacingAndGlyphs">Tijuana</text>
<text x="1223.5" y="1677.2" font-size="37" class="n" text-anchor="end" textLength="55.5" lengthAdjust="spacingAndGlyphs">9.9</text>
<text x="1112" y="1677.7" font-size="28.5" class="l" text-anchor="end" textLength="93.5" lengthAdjust="spacingAndGlyphs">Cancún</text>
<text x="2" y="1853" font-size="22" textLength="292" lengthAdjust="spacingAndGlyphs">Fuente: Inegi, Asur, GAP, OMA.</text>
</svg>
<div id="title"><h1 class="tt">Despegue oneroso</h1></div>
</body>
</html>
